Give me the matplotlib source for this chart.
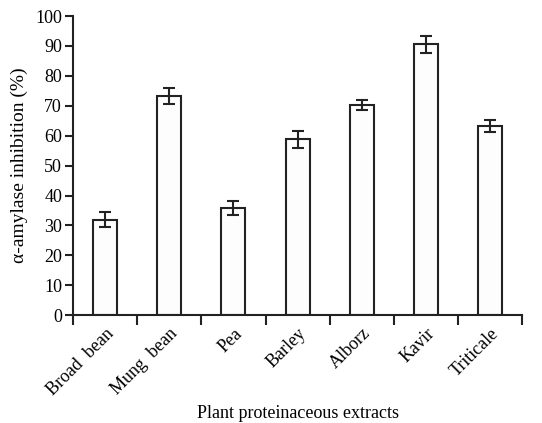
import matplotlib
matplotlib.use('Agg')
import matplotlib.pyplot as plt
import numpy as np

# data
extracts = ['Broad  bean', 'Mung  bean', 'Pea', 'Barley', 'Alborz', 'Kavir', 'Triticale']
inhibition = [31.9, 73.3, 35.8, 58.8, 70.2, 90.5, 63.3]
err = [2.5, 2.8, 2.2, 2.8, 1.7, 2.8, 2.1]

plt.rcParams['font.family'] = ['Liberation Serif', 'DejaVu Serif']

fig = plt.figure(figsize=(5.42, 4.23), dpi=100)
ax = fig.add_axes([0.135, 0.255, 0.828, 0.707])

x = np.arange(len(extracts)) + 0.5
ax.bar(x, inhibition, 0.375, color='#fdfdfd', edgecolor='#222222', linewidth=1.5,
       yerr=err, error_kw=dict(ecolor='#222222', elinewidth=1.5, capsize=4, capthick=1.5))

ax.set_xlim(0, len(extracts))
ax.set_ylim(0, 100)
ax.set_yticks(range(0, 101, 10))
ax.set_xticks(range(len(extracts) + 1))
ax.set_xticklabels([])
ax.set_xticks(x, minor=True)
ax.set_xticklabels(extracts, minor=True, rotation=45, ha='right', rotation_mode='anchor')
ax.tick_params(axis='x', which='minor', length=0, pad=7, labelsize=13)
ax.tick_params(axis='x', which='major', length=7, width=1.5, color='#222222')
ax.tick_params(axis='y', length=6, width=1.5, color='#222222', labelsize=13, pad=2)

for s in ['top', 'right']:
    ax.spines[s].set_visible(False)
for s in ['left', 'bottom']:
    ax.spines[s].set_linewidth(1.5)
    ax.spines[s].set_color('#222222')

ax.set_ylabel('α-amylase inhibition (%)', fontsize=14, labelpad=5)
ax.set_xlabel('Plant proteinaceous extracts', fontsize=13)
ax.xaxis.set_label_coords(0.5, -0.30)

plt.savefig('out.png', dpi=100)
